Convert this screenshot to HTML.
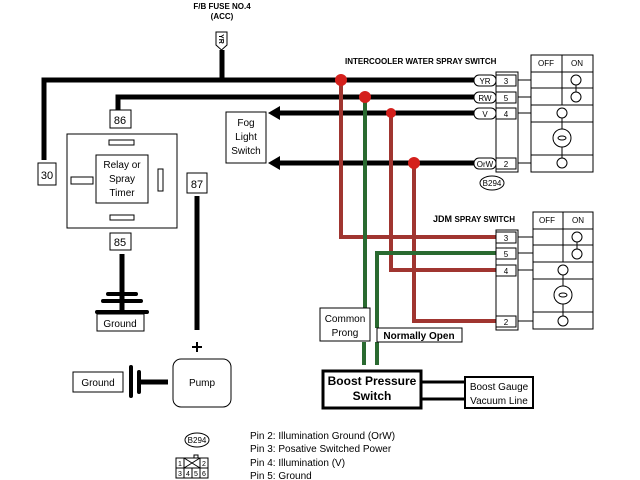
<!DOCTYPE html>
<html><head><style>body{margin:0;background:#fff}svg{display:block}</style></head><body>
<svg width="640" height="480" viewBox="0 0 640 480" xmlns="http://www.w3.org/2000/svg" font-family="Liberation Sans, sans-serif">
<rect width="640" height="480" fill="#fff"/>
<!-- fuse -->
<text x="222" y="9" font-size="8" font-weight="bold" text-anchor="middle">F/B FUSE NO.4</text>
<text x="222" y="19" font-size="8" font-weight="bold" text-anchor="middle">(ACC)</text>
<path d="M216 32 h11 v13 l-5.5 5 l-5.5 -5 z" fill="#fff" stroke="#000"/>
<text x="222" y="39" dy="3" font-size="7" font-weight="bold" text-anchor="middle" transform="rotate(90 222 39)">YR</text>
<g stroke="#000" stroke-width="5" fill="none">
<path d="M222 50 V80"/>
<path d="M44 160 V80 H476"/>
<path d="M118 112 V97 H476"/>
<path d="M280 113 H476"/>
<path d="M280 163 H476"/>
<path d="M197 196 V330"/>
<path d="M122 254 V314"/>
<path d="M141 382 H168"/>
</g>
<path d="M268 113 l12 -7 v14 z M268 163 l12 -7 v14 z"/>
<!-- ground bars -->
<g stroke="#000" stroke-width="4" stroke-linecap="round">
<path d="M108 294 H136 M103 301 H141 M97 312 H147"/>
<path d="M131 367 V396 M139 372 V392"/>
</g>
<!-- colored wires -->
<g fill="none" stroke-width="4">
<path d="M341 80 V237 H496" stroke="#a03530"/>
<path d="M391 113 V270 H496" stroke="#a03530"/>
<path d="M414 163 V321 H496" stroke="#a03530"/>
<path d="M365 97 V308" stroke="#2a6a30"/>
<path d="M496 253 H377 V328" stroke="#2a6a30"/>
<path d="M364 342 V365 M377 342 V365" stroke="#2a6a30"/>
</g>
<g fill="#d4201c"><circle cx="341" cy="80" r="6"/><circle cx="365" cy="97" r="6"/><circle cx="391" cy="113" r="5"/><circle cx="414" cy="163" r="6"/></g>
<!-- boxes -->
<g fill="#fff" stroke="#000">
<rect x="38" y="163" width="18" height="22"/>
<rect x="110" y="110" width="21" height="18"/>
<rect x="110" y="233" width="21" height="17"/>
<rect x="187" y="173" width="20" height="20"/>
<rect x="67" y="134" width="110" height="94"/>
<rect x="96" y="155" width="52" height="48"/>
<rect x="109" y="140" width="25" height="5"/>
<rect x="110" y="215" width="24" height="5"/>
<rect x="71" y="177" width="22" height="7"/>
<rect x="158" y="169" width="5" height="22"/>
<rect x="226" y="112" width="40" height="51"/>
<rect x="97" y="314" width="47" height="17"/>
<rect x="73" y="372" width="50" height="20"/>
<rect x="173" y="359" width="58" height="48" rx="8"/>
<rect x="320" y="308" width="50" height="33"/>
<rect x="377" y="328" width="85" height="14"/>
<rect x="323" y="371" width="98" height="37" stroke-width="3"/>
<rect x="465" y="377" width="68" height="31" stroke-width="2"/>
</g>
<path d="M421 382 H465 M421 399 H465" stroke="#000" stroke-width="3"/>
<path d="M192 347 H202 M197 342 V352" stroke="#000" stroke-width="2"/>
<g font-size="11" text-anchor="middle">
<text x="47" y="179">30</text><text x="120" y="124">86</text><text x="120" y="246">85</text><text x="197" y="188">87</text>
<text x="122" y="168" font-size="10">Relay or</text><text x="122" y="182" font-size="10">Spray</text><text x="122" y="196" font-size="10">Timer</text>
<text x="246" y="126" font-size="10">Fog</text><text x="246" y="140" font-size="10">Light</text><text x="246" y="154" font-size="10">Switch</text>
<text x="120" y="327" font-size="10">Ground</text><text x="98" y="386" font-size="10">Ground</text><text x="202" y="386" font-size="10">Pump</text>
<text x="345" y="322" font-size="10">Common</text><text x="345" y="336" font-size="10">Prong</text>
<text x="419" y="339" font-size="10" font-weight="bold">Normally Open</text>
<text x="372" y="385" font-size="12" font-weight="bold">Boost Pressure</text><text x="372" y="400" font-size="12" font-weight="bold">Switch</text>
<text x="499" y="390" font-size="10">Boost Gauge</text><text x="499" y="404" font-size="10">Vacuum Line</text>
</g>
<!-- top connector -->
<text x="345" y="64" font-size="8" font-weight="bold">INTERCOOLER WATER  SPRAY SWITCH</text>
<g fill="#fff" stroke="#000">
<rect x="496" y="72" width="22" height="100"/>
<rect x="496" y="75" width="20" height="11"/><rect x="496" y="92" width="20" height="11"/><rect x="496" y="108" width="20" height="11"/><rect x="496" y="158" width="20" height="11"/>
<rect x="474" y="75" width="22" height="11" rx="5"/><rect x="474" y="92" width="22" height="11" rx="5"/><rect x="474" y="108" width="22" height="11" rx="5"/><rect x="474" y="158" width="22" height="11" rx="5"/>
<ellipse cx="492" cy="183" rx="12" ry="7"/>
<rect x="531" y="55" width="62" height="117"/>
</g>
<g stroke="#000" fill="none">
<path d="M518 80 H531 M518 97 H531 M518 113 H531 M518 163 H531"/>
<path d="M531 72 H593 M531 88 H593 M531 105 H593 M531 122 H593 M531 155 H593 M562 55 V105"/>
<circle cx="576" cy="80" r="5"/><circle cx="576" cy="97" r="5"/><path d="M576 85 V92"/>
<circle cx="562" cy="113" r="5"/><circle cx="562" cy="138" r="9"/><circle cx="562" cy="163" r="5"/><path d="M562 118 V129 M562 147 V158"/>
<ellipse cx="562" cy="138" rx="4" ry="2"/>
</g>
<g font-size="8" text-anchor="middle">
<text x="546" y="66">OFF</text><text x="577" y="66">ON</text>
<text x="506" y="84">3</text><text x="506" y="101">5</text><text x="506" y="117">4</text><text x="506" y="167">2</text>
<text x="485" y="84">YR</text><text x="485" y="101">RW</text><text x="485" y="117">V</text><text x="485" y="167">OrW</text>
<text x="492" y="186">B294</text>
</g>
<!-- JDM connector -->
<text x="433" y="222" font-size="9" font-weight="bold">JDM <tspan font-size="8">SPRAY SWITCH</tspan></text>
<g fill="#fff" stroke="#000">
<rect x="496" y="230" width="22" height="100"/>
<rect x="496" y="232" width="20" height="11"/><rect x="496" y="248" width="20" height="11"/><rect x="496" y="265" width="20" height="11"/><rect x="496" y="316" width="20" height="11"/>
<rect x="533" y="212" width="60" height="117"/>
</g>
<g stroke="#000" fill="none">
<path d="M518 237 H533 M518 253 H533 M518 270 H533 M518 321 H533"/>
<path d="M533 229 H593 M533 245 H593 M533 262 H593 M533 279 H593 M533 312 H593 M563 212 V262"/>
<circle cx="577" cy="237" r="5"/><circle cx="577" cy="254" r="5"/><path d="M577 242 V249"/>
<circle cx="563" cy="270" r="5"/><circle cx="563" cy="295" r="9"/><circle cx="563" cy="321" r="5"/><path d="M563 275 V286 M563 304 V316"/>
<ellipse cx="563" cy="295" rx="4" ry="2"/>
</g>
<g font-size="8" text-anchor="middle">
<text x="547" y="223">OFF</text><text x="578" y="223">ON</text>
<text x="506" y="241">3</text><text x="506" y="257">5</text><text x="506" y="274">4</text><text x="506" y="325">2</text>
</g>
<!-- legend -->
<ellipse cx="197" cy="440" rx="12" ry="7" fill="#fff" stroke="#000"/>
<text x="197" y="443" font-size="8" text-anchor="middle">B294</text>
<g fill="none" stroke="#000">
<rect x="176" y="458" width="32" height="20"/><path d="M176 468 H208 M184 458 V478 M200 458 V478 M192 468 V478 M184 458 L200 468 M200 458 L184 468"/><rect x="194" y="455" width="4" height="3"/>
</g>
<g font-size="7" text-anchor="middle"><text x="180" y="466">1</text><text x="204" y="466">2</text><text x="180" y="476">3</text><text x="188" y="476">4</text><text x="196" y="476">5</text><text x="204" y="476">6</text></g>
<g font-size="10"><text x="250" y="439">Pin 2: Illumination Ground (OrW)</text><text x="250" y="452">Pin 3: Posative Switched Power</text><text x="250" y="466">Pin 4: Illumination (V)</text><text x="250" y="479">Pin 5: Ground</text></g>
</svg>
</body></html>
